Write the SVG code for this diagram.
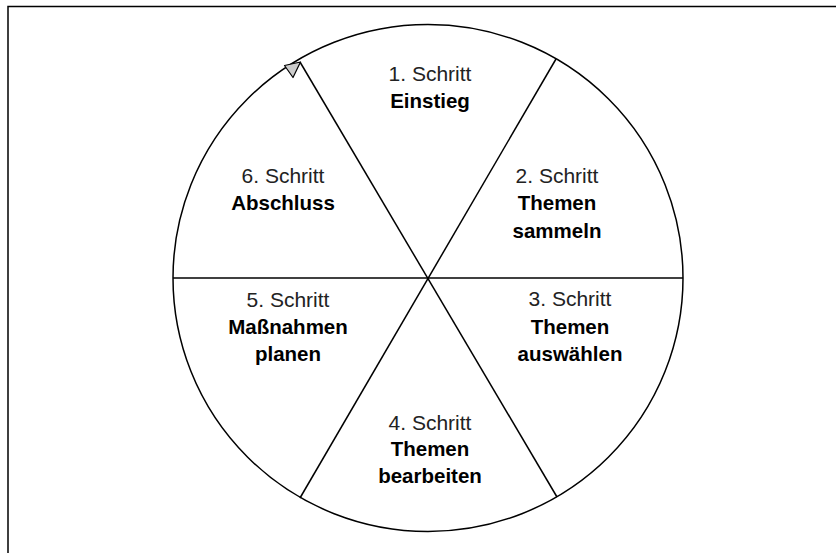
<svg xmlns="http://www.w3.org/2000/svg" width="836" height="553" viewBox="0 0 836 553">
<style>
.ln{stroke:#000;stroke-width:1.5;fill:none}
.s{font-family:"Liberation Sans",Arial,sans-serif;font-size:21px;fill:#222;text-anchor:middle}
.b{font-family:"Liberation Sans",Arial,sans-serif;font-size:20.5px;font-weight:bold;fill:#000;text-anchor:middle}
</style>
<rect width="836" height="553" fill="#fff"/>
<path class="ln" d="M8 553 V6.5 H836" stroke-width="2"/>
<g id="connectors">
<ellipse class="ln" cx="428" cy="278" rx="255" ry="253.5"/>
<line class="ln" x1="173" y1="278" x2="683" y2="278"/>
<line class="ln" x1="300" y1="62" x2="557" y2="497"/>
<line class="ln" x1="556" y1="59" x2="300" y2="498"/>
<polygon points="300.5,62 284.5,65.5 293,77.5" fill="#ccc" stroke="#000" stroke-width="1.2" stroke-linejoin="round"/>
</g>
<g id="step1"><text class="s" x="430" y="81">1. Schritt</text><text class="b" x="430" y="108">Einstieg</text></g>
<g id="step2"><text class="s" x="557" y="183">2. Schritt</text><text class="b" x="557" y="210">Themen</text><text class="b" x="557" y="238">sammeln</text></g>
<g id="step3"><text class="s" x="570" y="306">3. Schritt</text><text class="b" x="570" y="334">Themen</text><text class="b" x="570" y="361">auswählen</text></g>
<g id="step4"><text class="s" x="430" y="430">4. Schritt</text><text class="b" x="430" y="456">Themen</text><text class="b" x="430" y="483">bearbeiten</text></g>
<g id="step5"><text class="s" x="288" y="307">5. Schritt</text><text class="b" x="288" y="334">Maßnahmen</text><text class="b" x="288" y="361">planen</text></g>
<g id="step6"><text class="s" x="283" y="183">6. Schritt</text><text class="b" x="283" y="210">Abschluss</text></g>
</svg>
